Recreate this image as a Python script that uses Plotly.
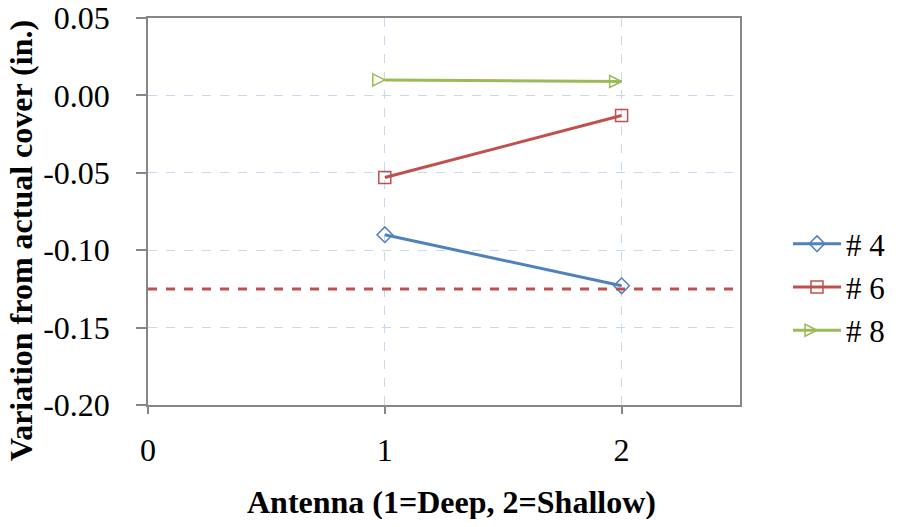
import plotly.graph_objects as go

antenna = [1, 2]
series_names = ["# 4", "# 6", "# 8"]
s4 = [-0.090, -0.123]
s6 = [-0.053, -0.013]
s8 = [0.010, 0.009]
threshold = -0.125
x_ticks = [0, 1, 2]
y_ticks = [0.05, 0.00, -0.05, -0.10, -0.15, -0.20]
x_title = "Antenna (1=Deep, 2=Shallow)"
y_title = "Variation from actual cover (in.)"

colors = ["#4F81BD", "#C0504D", "#9BBB59"]
symbols = ["diamond-open", "square-open", "arrow-right-open"]

FAM = "Liberation Serif, Times New Roman, serif"
FS = 32

fig = go.Figure()
for name, vals, c, s in zip(series_names, [s4, s6, s8], colors, symbols):
    fig.add_trace(go.Scatter(
        x=antenna, y=vals, name=name, mode="lines+markers",
        line=dict(color=c, width=3),
        marker=dict(symbol=s, size=12, color=c, line=dict(color=c, width=1.5)),
    ))

fig.add_trace(go.Scatter(
    x=[0, 2.5], y=[threshold, threshold], mode="lines", showlegend=False,
    line=dict(color="#C0504D", width=3, dash="dash"), hoverinfo="skip",
))

# page body has an 8px margin: figure origin sits at (8, 8) in the window
W, H = 883, 511
PX0, PX1, PY0, PY1 = 148, 740, 18, 405          # plot area in window pixels
PAPER_R = 8 + W                                  # right edge of paper (r margin 0)
L, R, T, B = PX0 - 8, 0, PY0 - 8, H - (PY1 - 8)
XDOM = (PX1 - PX0) / (PAPER_R - PX0)


def px(wx):
    return (wx - PX0) / (PAPER_R - PX0)


def py(wy):
    return (PY1 - wy) / (PY1 - PY0)


axis_common = dict(
    showline=True, linecolor="#868686", linewidth=1.5, mirror=True,
    ticks="outside", tickcolor="#868686", tickwidth=1.5,
    showgrid=True, gridcolor="#C6D9F1", griddash="dash", gridwidth=1,
    zeroline=False, automargin=False, ticklabeloverflow="allow",
    tickfont=dict(family=FAM, size=FS, color="black"),
)
fig.update_layout(
    width=W, height=H,
    margin=dict(l=L, r=R, t=T, b=B, pad=0),
    paper_bgcolor="white", plot_bgcolor="white",
    font=dict(family=FAM, size=FS, color="black"),
    showlegend=True,
    legend=dict(x=1.0, y=py(287), xanchor="right", yanchor="middle",
                itemwidth=48, borderwidth=0,
                font=dict(family=FAM, size=31, color="black"),
                bgcolor="rgba(0,0,0,0)"),
    xaxis=dict(
        domain=[0, XDOM],
        range=[0, 2.5], tickvals=x_ticks, ticktext=[str(v) for v in x_ticks],
        ticklen=7, ticklabelstandoff=9, **axis_common,
    ),
    yaxis=dict(
        range=[-0.20, 0.05], tickvals=y_ticks, ticktext=[f"{v:.2f}" for v in y_ticks],
        ticklen=10, ticklabelstandoff=20, **axis_common,
    ),
    annotations=[
        dict(text=f"<b>{x_title}</b>", xref="paper", yref="paper",
             x=px(451), y=py(502), xanchor="center", yanchor="middle",
             showarrow=False, font=dict(family=FAM, size=FS, color="black")),
        dict(text=f"<b>{y_title}</b>", xref="paper", yref="paper", textangle=-90,
             x=px(21), y=py(241), xanchor="center", yanchor="middle",
             showarrow=False, font=dict(family=FAM, size=FS, color="black")),
    ],
)

fig.write_html("out.html")
